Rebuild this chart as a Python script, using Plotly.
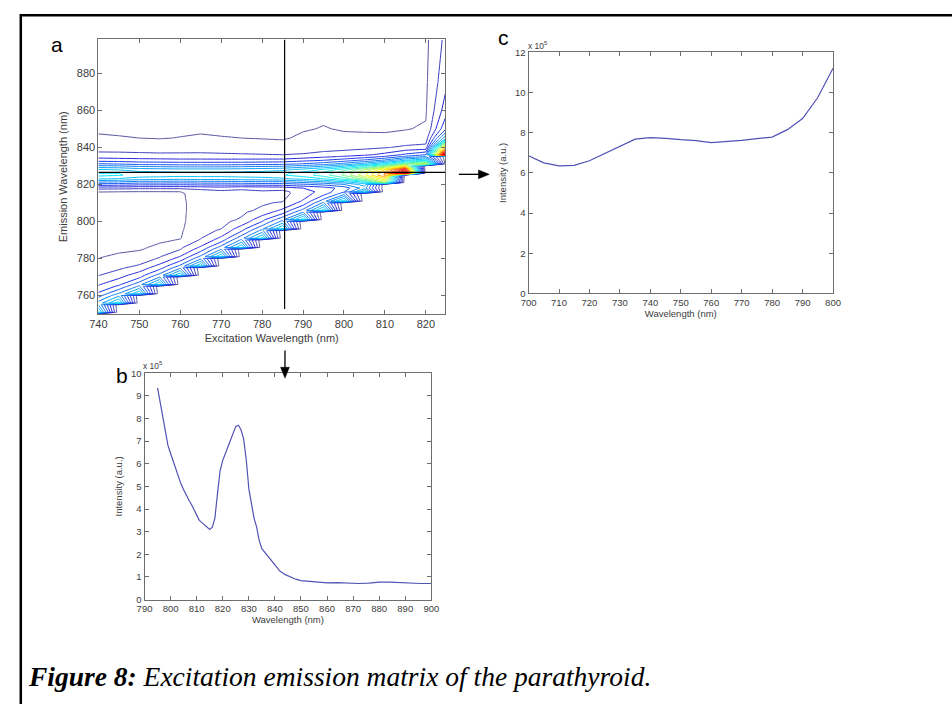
import plotly.graph_objects as go

# ---------------- excitation-emission matrix (intensity, x 10^5 a.u.) ----------------
excitation_nm = [740, 745, 750, 755, 760, 765, 770, 775, 780, 785,
                 790, 795, 800, 805, 810, 815, 820, 825]

emission_nm = [750, 751, 755, 756, 760, 761, 765, 766, 770, 771, 775, 776,
               780, 781, 785, 786, 790, 791, 795, 796, 800, 801, 805, 806,
               810, 811, 815, 816, 818, 820, 821, 823, 825, 826, 828, 830,
               831, 833, 835, 836, 840, 845, 850, 860, 875, 898]

# One scan per excitation wavelength: intensities from the first emission row
# clear of the Rayleigh line up to 898 nm (rows below it were removed -> 0).
eem_scans = [
    [9.5, 7.0, 6.4, 4.6, 4.2, 3.1, 2.9, 2.1, 1.95, 1.45, 1.35, 1.0, 0.95, 0.78, 0.74,
     0.62, 0.6, 0.56, 0.55, 0.53, 0.52, 0.5, 0.5, 0.5, 0.5, 0.62,
     1.05, 2.35, 4.6, 5.7, 8.1, 9.3, 9.0, 8.1, 6.1, 5.1, 3.6, 2.6,
     2.3, 1.5, 1.08, 0.9, 0.8, 0.78, 0.75],
    [9.5, 6.8, 6.1, 4.2, 3.8, 2.8, 2.6, 1.8, 1.7, 1.2, 1.12, 0.87, 0.82, 0.66, 0.63,
     0.56, 0.55, 0.53, 0.52, 0.5, 0.5, 0.5, 0.5, 0.62,
     1.0, 2.3, 4.5, 5.6, 7.9, 9.1, 9.0, 7.9, 6.0, 5.0, 3.5, 2.55,
     2.3, 1.45, 1.04, 0.88, 0.8, 0.78, 0.75],
    [9.0, 6.2, 5.6, 3.8, 3.5, 2.4, 2.1, 1.5, 1.4, 0.92, 0.86, 0.7, 0.68, 0.6, 0.58,
     0.55, 0.55, 0.53, 0.53, 0.52, 0.52, 0.62,
     0.95, 2.2, 4.3, 5.3, 7.5, 8.6, 8.5, 7.5, 5.7, 4.7, 3.4, 2.5,
     2.25, 1.4, 1.0, 0.87, 0.8, 0.78, 0.75],
    [9.0, 6.0, 5.4, 3.6, 3.3, 2.1, 1.95, 1.3, 1.2, 0.85, 0.8, 0.66, 0.63, 0.57, 0.56,
     0.53, 0.53, 0.52, 0.52, 0.62,
     0.95, 2.2, 4.25, 5.3, 7.4, 8.5, 8.4, 7.4, 5.6, 4.65, 3.35, 2.45,
     2.2, 1.35, 0.97, 0.86, 0.8, 0.78, 0.75],
    [9.0, 5.8, 5.2, 3.4, 3.05, 1.95, 1.8, 1.05, 0.95, 0.9, 0.88, 0.86, 0.86, 0.86, 0.86,
     0.87, 0.88, 0.9,
     0.99, 2.2, 4.2, 5.2, 7.3, 8.4, 8.3, 7.3, 5.5, 4.6, 3.3, 2.4,
     2.2, 1.4, 1.02, 0.87, 0.8, 0.78, 0.75],
    [9.0, 5.8, 5.2, 3.5, 3.15, 2.1, 1.95, 1.6, 1.55, 1.4, 1.38, 1.33, 1.32, 1.3, 1.3, 1.35,
     1.55, 2.3, 4.3, 5.3, 7.4, 8.4, 8.3, 7.3, 5.5, 4.6, 3.3, 2.4,
     2.2, 1.45, 1.08, 0.9, 0.8, 0.78, 0.75],
    [9.0, 6.0, 5.4, 3.5, 3.2, 2.15, 2.0, 1.75, 1.7, 1.55, 1.52, 1.48, 1.48, 1.55,
     1.75, 2.5, 4.35, 5.35, 7.4, 8.4, 8.3, 7.3, 5.5, 4.6, 3.3, 2.35,
     2.15, 1.4, 1.03, 0.88, 0.8, 0.78, 0.75],
    [9.0, 6.2, 5.6, 3.9, 3.6, 2.3, 2.1, 1.85, 1.8, 1.7, 1.68, 1.7,
     1.75, 2.2, 4.4, 5.4, 7.5, 8.5, 8.4, 7.4, 5.6, 4.65, 3.3, 2.35,
     2.1, 1.35, 1.0, 0.87, 0.8, 0.78, 0.75],
    [9.2, 6.4, 5.8, 4.0, 3.7, 2.4, 2.15, 1.9, 1.87, 1.85,
     1.9, 2.3, 4.5, 5.5, 7.6, 8.6, 8.5, 7.5, 5.7, 4.7, 3.35, 2.3,
     2.05, 1.3, 0.97, 0.86, 0.8, 0.78, 0.75],
    [9.3, 6.3, 5.7, 3.6, 3.2, 2.1, 1.95, 1.7,
     1.75, 2.4, 4.5, 5.5, 7.8, 8.9, 8.8, 7.7, 5.8, 4.8, 3.4, 2.2,
     2.0, 1.25, 0.94, 0.85, 0.8, 0.78, 0.75],
    [9.5, 6.0, 5.3, 3.4, 3.1, 2.5,
     2.45, 3.0, 4.9, 6.0, 8.3, 9.5, 9.4, 8.3, 6.2, 5.1, 3.7, 2.5,
     2.1, 1.4, 1.1, 0.95, 0.85, 0.8, 0.76],
    [9.5, 6.2, 5.5, 3.6,
     3.4, 3.5, 5.3, 6.5, 9.0, 10.5, 10.4, 9.1, 6.8, 5.6, 4.0, 2.8,
     2.3, 1.6, 1.2, 1.03, 0.86, 0.8, 0.77],
    [9.5, 5.5,
     4.9, 4.4, 6.0, 7.3, 10.3, 12.2, 12.0, 10.5, 7.8, 6.4, 4.5, 3.1,
     2.5, 1.65, 1.12, 0.95, 0.83, 0.8, 0.77],
    [9.0, 6.5, 7.5, 8.8, 12.5, 14.8, 14.6, 12.8, 9.4, 7.6, 5.2, 3.5,
     2.8, 1.75, 1.1, 0.94, 0.83, 0.8, 0.77],
    [13.0, 15.8, 18.2, 18.0, 15.8, 11.5, 9.3, 6.2, 4.1,
     3.3, 1.9, 1.1, 0.93, 0.83, 0.8, 0.77],
    [24.5, 21.0, 15.0, 12.0, 8.0, 5.2,
     4.2, 2.2, 1.2, 0.97, 0.85, 0.8, 0.78],
    [14.0, 9.0, 6.0,
     5.0, 2.3, 1.45, 1.06, 0.92, 0.85, 0.8],
    [25.0, 17.0, 8.0, 5.0, 3.6, 2.8, 2.3],
]

# Slices shown as spectra b (emission at fixed excitation) and c (fixed emission)
excitation_slice_nm = 785.5
emission_slice_nm = 826.5

# ---------------- spectrum b: emission scan (x 10^5 a.u.) ----------------
b_wavelength = [795, 796, 797, 798, 799, 800, 801, 802, 803, 804, 805, 806, 807, 808,
                809, 810, 811, 812, 813, 814, 815, 816, 817, 818, 819, 820, 821, 822,
                823, 824, 825, 826, 827, 828, 829, 830, 831, 832, 833, 834, 835, 836,
                837, 838, 839, 840, 842, 844, 846, 848, 850, 853, 856, 860, 864, 868,
                872, 876, 880, 884, 888, 892, 896, 900]
b_intensity = [9.35, 8.7, 8.0, 7.3, 6.8, 6.45, 6.1, 5.75, 5.4, 5.1, 4.85, 4.6, 4.4, 4.2,
               3.95, 3.7, 3.5, 3.4, 3.3, 3.18, 3.1, 3.2, 3.6, 4.7, 5.7, 6.15, 6.5, 6.75,
               7.05, 7.35, 7.65, 7.7, 7.5, 7.1, 6.2, 4.9, 4.2, 3.6, 3.2, 2.6, 2.25, 2.1,
               1.95, 1.8, 1.65, 1.5, 1.25, 1.1, 1.0, 0.9, 0.84, 0.8, 0.78, 0.74, 0.75, 0.72,
               0.71, 0.73, 0.77, 0.77, 0.74, 0.71, 0.71, 0.71]

# ---------------- spectrum c: excitation scan (x 10^5 a.u.) ----------------
c_wavelength = [700, 705, 710, 715, 720, 725, 730, 735, 740, 745, 750,
                755, 760, 765, 770, 775, 780, 785, 790, 795, 800]
c_intensity = [6.85, 6.5, 6.35, 6.37, 6.6, 6.95, 7.3, 7.68, 7.75, 7.72, 7.65,
               7.6, 7.5, 7.55, 7.62, 7.7, 7.78, 8.15, 8.7, 9.75, 11.2]

assert len(b_wavelength) == len(b_intensity)
assert len(c_wavelength) == len(c_intensity)

# Assemble the matrix (rows = emission, columns = excitation)
z = [[0.0] * len(excitation_nm) for _ in emission_nm]
for k, scan in enumerate(eem_scans):
    start = len(emission_nm) - len(scan)
    for i, v in enumerate(scan):
        z[start + i][k] = v

W, H = 952, 704


def px(x):
    return x / W


def py(y):
    return 1 - y / H


FONT = "Liberation Sans, Arial, sans-serif"
AX_LINE = "#6e6e6e"
TXT = "#3c3c3c"
SPEC_COLOR = "#5252b4"

jet_like = [
    [0.0, "rgb(85,85,160)"],
    [0.10, "rgb(30,30,230)"],
    [0.36, "rgb(0,235,255)"],
    [0.62, "rgb(255,255,0)"],
    [0.85, "rgb(255,0,0)"],
    [1.0, "rgb(200,0,0)"],
]


def axis(domain, rng, dtick, tick_size, title, title_size, anchor, standoff):
    return dict(
        domain=domain, range=rng, dtick=dtick, anchor=anchor,
        showline=True, linecolor=AX_LINE, linewidth=1, mirror="ticks",
        ticks="inside", ticklen=4, tickcolor=AX_LINE, tickwidth=1,
        tickfont=dict(family=FONT, size=tick_size, color=TXT),
        showgrid=False, zeroline=False, tickangle=0,
        title=dict(text=title, font=dict(family=FONT, size=title_size, color=TXT),
                   standoff=standoff),
    )


fig = go.Figure()

fig.add_trace(go.Contour(
    x=excitation_nm, y=emission_nm, z=z,
    xaxis="x", yaxis="y",
    contours=dict(coloring="lines", start=1, end=24, size=1),
    colorscale=jet_like, showscale=False,
    line=dict(width=1, smoothing=0),
    hoverinfo="skip",
))

fig.add_trace(go.Scatter(
    x=c_wavelength, y=c_intensity, xaxis="x2", yaxis="y2",
    mode="lines", line=dict(color=SPEC_COLOR, width=1.2), hoverinfo="skip",
))

fig.add_trace(go.Scatter(
    x=b_wavelength, y=b_intensity, xaxis="x3", yaxis="y3",
    mode="lines", line=dict(color=SPEC_COLOR, width=1.2), hoverinfo="skip",
))

fig.update_layout(
    width=W, height=H,
    margin=dict(l=0, r=0, t=0, b=0),
    paper_bgcolor="white", plot_bgcolor="white",
    showlegend=False,
    xaxis=axis([px(91), px(444)], [740, 824.7], 10, 11,
               "Excitation Wavelength (nm)", 11, "y", 4),
    yaxis=axis([py(313), py(34)], [750, 898.2], 20, 11,
               "Emission Wavelength (nm)", 11, "x", 6),
    xaxis2=axis([px(529), px(839)], [700, 800], 10, 9.5,
                "Wavelength (nm)", 9.5, "y2", 3),
    yaxis2=axis([py(292), py(47)], [0, 12], 2, 9.5,
                "Intensity (a.u.)", 9.5, "x2", 6),
    xaxis3=axis([px(138), px(430)], [790, 900], 10, 9.5,
                "Wavelength (nm)", 9.5, "y3", 3),
    yaxis3=axis([py(603), py(373)], [0, 10], 1, 9.5,
                "Intensity (a.u.)", 9.5, "x3", 6),
)

# crosshair marking the two slices
fig.add_shape(type="line", xref="x", yref="y",
              x0=excitation_slice_nm, x1=excitation_slice_nm, y0=752.7, y1=898.2,
              line=dict(color="black", width=1.2))
fig.add_shape(type="line", xref="x", yref="y",
              x0=740, x1=824.7, y0=emission_slice_nm, y1=emission_slice_nm,
              line=dict(color="black", width=1.2))

# frame around the figure
fig.add_shape(type="rect", xref="paper", yref="paper",
              x0=px(12), x1=px(990), y0=py(740), y1=py(9.5),
              line=dict(color="black", width=2.5), fillcolor="rgba(0,0,0,0)")

# arrows leading from the crosshair to the two spectra
def arrow(x0, y0, x1, y1):
    fig.add_shape(type="line", xref="paper", yref="paper",
                  x0=px(x0), y0=py(y0), x1=px(x1), y1=py(y1),
                  line=dict(color="black", width=1.3))


arrow(458, 171, 480, 171)
fig.add_shape(type="path", xref="paper", yref="paper",
              path=f"M {px(478)},{py(166.5)} L {px(489)},{py(171)} L {px(478)},{py(175.5)} Z",
              fillcolor="black", line=dict(color="black", width=0.5))
arrow(281, 350, 281, 369)
fig.add_shape(type="path", xref="paper", yref="paper",
              path=f"M {px(276.5)},{py(367)} L {px(281)},{py(378)} L {px(285.5)},{py(367)} Z",
              fillcolor="black", line=dict(color="black", width=0.5))

for label, x, y in [("a", 49, 39), ("b", 115, 375), ("c", 503, 32)]:
    fig.add_annotation(xref="paper", yref="paper", x=px(x), y=py(y),
                       text=label, showarrow=False, xanchor="center", yanchor="middle",
                       font=dict(family=FONT, size=21, color="black"))

for x, y in [(147, 365), (539, 40)]:
    fig.add_annotation(xref="paper", yref="paper", x=px(x), y=py(y),
                       text="x 10<sup>5</sup>", showarrow=False,
                       xanchor="center", yanchor="middle",
                       font=dict(family=FONT, size=8.5, color=TXT))

fig.add_annotation(
    xref="paper", yref="paper", x=px(17), y=py(681),
    xanchor="left", yanchor="middle", showarrow=False,
    text="<b><i>Figure 8:</i></b><i> Excitation emission matrix of the parathyroid.</i>",
    font=dict(family="Liberation Serif, Times New Roman, serif", size=27.5, color="black"),
)

fig.write_html("out.html")
